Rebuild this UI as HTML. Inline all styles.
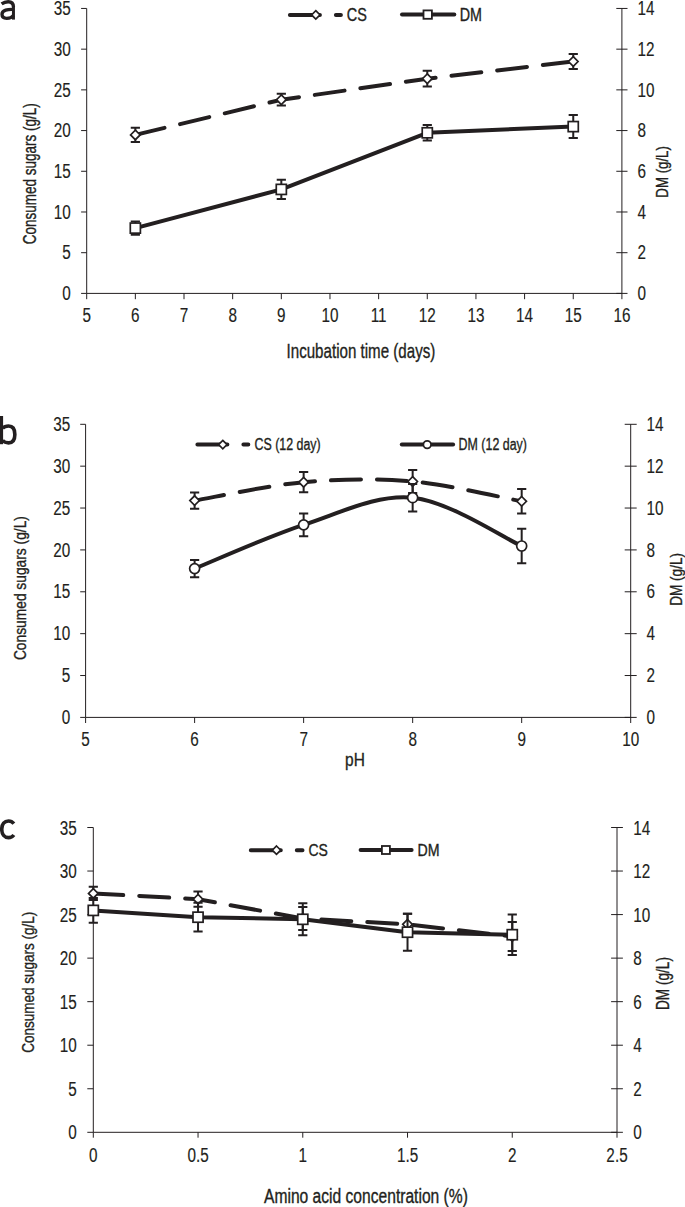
<!DOCTYPE html><html><head><meta charset="utf-8"><style>html,body{margin:0;padding:0;background:#fff;}svg{display:block;}svg text{font-family:"Liberation Sans",sans-serif;}</style></head><body><svg width="685" height="1207" viewBox="0 0 685 1207" font-family="Liberation Sans, sans-serif">
<rect width="685" height="1207" fill="#fff"/>
<path d="M86.70,8.45V293.40M621.90,8.45V293.40M86.70,293.40H621.90M81.10,293.40H86.70M616.30,293.40H627.50M81.10,252.69H86.70M616.30,252.69H627.50M81.10,211.99H86.70M616.30,211.99H627.50M81.10,171.28H86.70M616.30,171.28H627.50M81.10,130.57H86.70M616.30,130.57H627.50M81.10,89.86H86.70M616.30,89.86H627.50M81.10,49.16H86.70M616.30,49.16H627.50M81.10,8.45H86.70M616.30,8.45H627.50M86.70,293.40V299.20M135.35,293.40V299.20M184.01,293.40V299.20M232.66,293.40V299.20M281.32,293.40V299.20M329.97,293.40V299.20M378.63,293.40V299.20M427.28,293.40V299.20M475.94,293.40V299.20M524.59,293.40V299.20M573.25,293.40V299.20M621.90,293.40V299.20" stroke="#231f20" stroke-width="1" fill="none"/>
<text transform="translate(70.80,300.10) scale(0.7850,1)" font-size="19.5" text-anchor="end" fill="#231f20" stroke="#231f20" stroke-width="0.15">0</text>
<text transform="translate(637.50,300.10) scale(0.7850,1)" font-size="19.5" text-anchor="start" fill="#231f20" stroke="#231f20" stroke-width="0.15">0</text>
<text transform="translate(70.80,259.39) scale(0.7850,1)" font-size="19.5" text-anchor="end" fill="#231f20" stroke="#231f20" stroke-width="0.15">5</text>
<text transform="translate(637.50,259.39) scale(0.7850,1)" font-size="19.5" text-anchor="start" fill="#231f20" stroke="#231f20" stroke-width="0.15">2</text>
<text transform="translate(70.80,218.69) scale(0.7850,1)" font-size="19.5" text-anchor="end" fill="#231f20" stroke="#231f20" stroke-width="0.15">10</text>
<text transform="translate(637.50,218.69) scale(0.7850,1)" font-size="19.5" text-anchor="start" fill="#231f20" stroke="#231f20" stroke-width="0.15">4</text>
<text transform="translate(70.80,177.98) scale(0.7850,1)" font-size="19.5" text-anchor="end" fill="#231f20" stroke="#231f20" stroke-width="0.15">15</text>
<text transform="translate(637.50,177.98) scale(0.7850,1)" font-size="19.5" text-anchor="start" fill="#231f20" stroke="#231f20" stroke-width="0.15">6</text>
<text transform="translate(70.80,137.27) scale(0.7850,1)" font-size="19.5" text-anchor="end" fill="#231f20" stroke="#231f20" stroke-width="0.15">20</text>
<text transform="translate(637.50,137.27) scale(0.7850,1)" font-size="19.5" text-anchor="start" fill="#231f20" stroke="#231f20" stroke-width="0.15">8</text>
<text transform="translate(70.80,96.56) scale(0.7850,1)" font-size="19.5" text-anchor="end" fill="#231f20" stroke="#231f20" stroke-width="0.15">25</text>
<text transform="translate(637.50,96.56) scale(0.7850,1)" font-size="19.5" text-anchor="start" fill="#231f20" stroke="#231f20" stroke-width="0.15">10</text>
<text transform="translate(70.80,55.86) scale(0.7850,1)" font-size="19.5" text-anchor="end" fill="#231f20" stroke="#231f20" stroke-width="0.15">30</text>
<text transform="translate(637.50,55.86) scale(0.7850,1)" font-size="19.5" text-anchor="start" fill="#231f20" stroke="#231f20" stroke-width="0.15">12</text>
<text transform="translate(70.80,15.15) scale(0.7850,1)" font-size="19.5" text-anchor="end" fill="#231f20" stroke="#231f20" stroke-width="0.15">35</text>
<text transform="translate(637.50,15.15) scale(0.7850,1)" font-size="19.5" text-anchor="start" fill="#231f20" stroke="#231f20" stroke-width="0.15">14</text>
<text transform="translate(86.70,321.80) scale(0.7850,1)" font-size="19.5" text-anchor="middle" fill="#231f20" stroke="#231f20" stroke-width="0.15">5</text>
<text transform="translate(135.35,321.80) scale(0.7850,1)" font-size="19.5" text-anchor="middle" fill="#231f20" stroke="#231f20" stroke-width="0.15">6</text>
<text transform="translate(184.01,321.80) scale(0.7850,1)" font-size="19.5" text-anchor="middle" fill="#231f20" stroke="#231f20" stroke-width="0.15">7</text>
<text transform="translate(232.66,321.80) scale(0.7850,1)" font-size="19.5" text-anchor="middle" fill="#231f20" stroke="#231f20" stroke-width="0.15">8</text>
<text transform="translate(281.32,321.80) scale(0.7850,1)" font-size="19.5" text-anchor="middle" fill="#231f20" stroke="#231f20" stroke-width="0.15">9</text>
<text transform="translate(329.97,321.80) scale(0.7850,1)" font-size="19.5" text-anchor="middle" fill="#231f20" stroke="#231f20" stroke-width="0.15">10</text>
<text transform="translate(378.63,321.80) scale(0.7850,1)" font-size="19.5" text-anchor="middle" fill="#231f20" stroke="#231f20" stroke-width="0.15">11</text>
<text transform="translate(427.28,321.80) scale(0.7850,1)" font-size="19.5" text-anchor="middle" fill="#231f20" stroke="#231f20" stroke-width="0.15">12</text>
<text transform="translate(475.94,321.80) scale(0.7850,1)" font-size="19.5" text-anchor="middle" fill="#231f20" stroke="#231f20" stroke-width="0.15">13</text>
<text transform="translate(524.59,321.80) scale(0.7850,1)" font-size="19.5" text-anchor="middle" fill="#231f20" stroke="#231f20" stroke-width="0.15">14</text>
<text transform="translate(573.25,321.80) scale(0.7850,1)" font-size="19.5" text-anchor="middle" fill="#231f20" stroke="#231f20" stroke-width="0.15">15</text>
<text transform="translate(621.90,321.80) scale(0.7850,1)" font-size="19.5" text-anchor="middle" fill="#231f20" stroke="#231f20" stroke-width="0.15">16</text>
<path d="M135.35,134.90 L281.32,99.70 L427.28,78.70 L573.25,61.50" fill="none" stroke="#231f20" stroke-width="4.0" stroke-linecap="round" stroke-linejoin="round" stroke-dasharray="30.0 16.0"/>
<path d="M135.35,127.80V142.00M130.75,127.80H139.95M130.75,142.00H139.95" stroke="#231f20" stroke-width="2.0" fill="none"/>
<path d="M135.35,130.10L140.15,134.90L135.35,139.70L130.55,134.90Z" fill="#fff" stroke="#231f20" stroke-width="1.7"/>
<path d="M281.32,93.80V105.60M276.72,93.80H285.92M276.72,105.60H285.92" stroke="#231f20" stroke-width="2.0" fill="none"/>
<path d="M281.32,94.90L286.12,99.70L281.32,104.50L276.52,99.70Z" fill="#fff" stroke="#231f20" stroke-width="1.7"/>
<path d="M427.28,70.80V86.60M422.68,70.80H431.88M422.68,86.60H431.88" stroke="#231f20" stroke-width="2.0" fill="none"/>
<path d="M427.28,73.90L432.08,78.70L427.28,83.50L422.48,78.70Z" fill="#fff" stroke="#231f20" stroke-width="1.7"/>
<path d="M573.25,54.00V69.00M568.65,54.00H577.85M568.65,69.00H577.85" stroke="#231f20" stroke-width="2.0" fill="none"/>
<path d="M573.25,56.70L578.05,61.50L573.25,66.30L568.45,61.50Z" fill="#fff" stroke="#231f20" stroke-width="1.7"/>
<path d="M135.35,228.10 L281.32,189.40 L427.28,132.80 L573.25,126.60" fill="none" stroke="#231f20" stroke-width="4.0" stroke-linecap="round" stroke-linejoin="round"/>
<path d="M135.35,221.50V234.70M130.75,221.50H139.95M130.75,234.70H139.95" stroke="#231f20" stroke-width="2.0" fill="none"/>
<rect x="130.30" y="223.05" width="10.10" height="10.10" fill="#fff" stroke="#231f20" stroke-width="1.7"/>
<path d="M281.32,179.80V199.00M276.72,179.80H285.92M276.72,199.00H285.92" stroke="#231f20" stroke-width="2.0" fill="none"/>
<rect x="276.27" y="184.35" width="10.10" height="10.10" fill="#fff" stroke="#231f20" stroke-width="1.7"/>
<path d="M427.28,125.10V140.50M422.68,125.10H431.88M422.68,140.50H431.88" stroke="#231f20" stroke-width="2.0" fill="none"/>
<rect x="422.23" y="127.75" width="10.10" height="10.10" fill="#fff" stroke="#231f20" stroke-width="1.7"/>
<path d="M573.25,115.10V138.10M568.65,115.10H577.85M568.65,138.10H577.85" stroke="#231f20" stroke-width="2.0" fill="none"/>
<rect x="568.20" y="121.55" width="10.10" height="10.10" fill="#fff" stroke="#231f20" stroke-width="1.7"/>
<path d="M289.90,14.90H340.90" fill="none" stroke="#231f20" stroke-width="4.0" stroke-linecap="round" stroke-dasharray="30.0 16.0"/>
<path d="M315.80,10.70L320.00,14.90L315.80,19.10L311.60,14.90Z" fill="#fff" stroke="#231f20" stroke-width="1.7"/>
<path d="M402.00,14.60H454.30" fill="none" stroke="#231f20" stroke-width="4.0" stroke-linecap="round"/>
<rect x="423.50" y="10.40" width="8.40" height="8.40" fill="#fff" stroke="#231f20" stroke-width="1.8"/>
<text transform="translate(346.68,20.70) scale(0.8053,1)" font-size="18" fill="#231f20" stroke="#231f20" stroke-width="0.35">CS</text>
<text transform="translate(459.75,20.60) scale(0.7954,1)" font-size="18" fill="#231f20" stroke="#231f20" stroke-width="0.35">DM</text>
<text transform="translate(286.54,357.90) scale(0.7568,1)" font-size="20" fill="#231f20" stroke="#231f20" stroke-width="0.35">Incubation time (days)</text>
<text transform="translate(36.20,244.17) rotate(-90) scale(0.7499,1)" font-size="18" fill="#231f20" stroke="#231f20" stroke-width="0.35">Consumed sugars (g/L)</text>
<text transform="translate(668.00,197.66) rotate(-90) scale(0.7899,1)" font-size="16.8" fill="#231f20" stroke="#231f20" stroke-width="0.35">DM (g/L)</text>
<path d="M1.6,3.9 C3.8,2.3 5.9,1.7 8.2,1.7 C11.5,1.7 13.45,3.6 13.45,7.1 M13.45,9.4 C8,9.1 2.0,10.1 2.0,14.3 C2.0,16.9 3.9,18.35 6.7,18.35 C9.8,18.35 12.2,17.2 13.45,15.3" fill="none" stroke="#231f20" stroke-width="3.35"/><path d="M13.45,6.5V19.6" stroke="#231f20" stroke-width="3.0"/>
<path d="M85.60,424.30V717.40M630.70,424.30V717.40M85.60,717.40H630.70M80.20,717.40H85.60M624.70,717.40H636.70M80.20,675.53H85.60M624.70,675.53H636.70M80.20,633.66H85.60M624.70,633.66H636.70M80.20,591.79H85.60M624.70,591.79H636.70M80.20,549.91H85.60M624.70,549.91H636.70M80.20,508.04H85.60M624.70,508.04H636.70M80.20,466.17H85.60M624.70,466.17H636.70M80.20,424.30H85.60M624.70,424.30H636.70M85.60,717.40V723.00M194.62,717.40V723.00M303.64,717.40V723.00M412.66,717.40V723.00M521.68,717.40V723.00M630.70,717.40V723.00" stroke="#231f20" stroke-width="1" fill="none"/>
<text transform="translate(70.20,724.10) scale(0.7850,1)" font-size="19.5" text-anchor="end" fill="#231f20" stroke="#231f20" stroke-width="0.15">0</text>
<text transform="translate(646.60,724.10) scale(0.7850,1)" font-size="19.5" text-anchor="start" fill="#231f20" stroke="#231f20" stroke-width="0.15">0</text>
<text transform="translate(70.20,682.23) scale(0.7850,1)" font-size="19.5" text-anchor="end" fill="#231f20" stroke="#231f20" stroke-width="0.15">5</text>
<text transform="translate(646.60,682.23) scale(0.7850,1)" font-size="19.5" text-anchor="start" fill="#231f20" stroke="#231f20" stroke-width="0.15">2</text>
<text transform="translate(70.20,640.36) scale(0.7850,1)" font-size="19.5" text-anchor="end" fill="#231f20" stroke="#231f20" stroke-width="0.15">10</text>
<text transform="translate(646.60,640.36) scale(0.7850,1)" font-size="19.5" text-anchor="start" fill="#231f20" stroke="#231f20" stroke-width="0.15">4</text>
<text transform="translate(70.20,598.49) scale(0.7850,1)" font-size="19.5" text-anchor="end" fill="#231f20" stroke="#231f20" stroke-width="0.15">15</text>
<text transform="translate(646.60,598.49) scale(0.7850,1)" font-size="19.5" text-anchor="start" fill="#231f20" stroke="#231f20" stroke-width="0.15">6</text>
<text transform="translate(70.20,556.61) scale(0.7850,1)" font-size="19.5" text-anchor="end" fill="#231f20" stroke="#231f20" stroke-width="0.15">20</text>
<text transform="translate(646.60,556.61) scale(0.7850,1)" font-size="19.5" text-anchor="start" fill="#231f20" stroke="#231f20" stroke-width="0.15">8</text>
<text transform="translate(70.20,514.74) scale(0.7850,1)" font-size="19.5" text-anchor="end" fill="#231f20" stroke="#231f20" stroke-width="0.15">25</text>
<text transform="translate(646.60,514.74) scale(0.7850,1)" font-size="19.5" text-anchor="start" fill="#231f20" stroke="#231f20" stroke-width="0.15">10</text>
<text transform="translate(70.20,472.87) scale(0.7850,1)" font-size="19.5" text-anchor="end" fill="#231f20" stroke="#231f20" stroke-width="0.15">30</text>
<text transform="translate(646.60,472.87) scale(0.7850,1)" font-size="19.5" text-anchor="start" fill="#231f20" stroke="#231f20" stroke-width="0.15">12</text>
<text transform="translate(70.20,431.00) scale(0.7850,1)" font-size="19.5" text-anchor="end" fill="#231f20" stroke="#231f20" stroke-width="0.15">35</text>
<text transform="translate(646.60,431.00) scale(0.7850,1)" font-size="19.5" text-anchor="start" fill="#231f20" stroke="#231f20" stroke-width="0.15">14</text>
<text transform="translate(85.60,746.20) scale(0.7850,1)" font-size="19.5" text-anchor="middle" fill="#231f20" stroke="#231f20" stroke-width="0.15">5</text>
<text transform="translate(194.62,746.20) scale(0.7850,1)" font-size="19.5" text-anchor="middle" fill="#231f20" stroke="#231f20" stroke-width="0.15">6</text>
<text transform="translate(303.64,746.20) scale(0.7850,1)" font-size="19.5" text-anchor="middle" fill="#231f20" stroke="#231f20" stroke-width="0.15">7</text>
<text transform="translate(412.66,746.20) scale(0.7850,1)" font-size="19.5" text-anchor="middle" fill="#231f20" stroke="#231f20" stroke-width="0.15">8</text>
<text transform="translate(521.68,746.20) scale(0.7850,1)" font-size="19.5" text-anchor="middle" fill="#231f20" stroke="#231f20" stroke-width="0.15">9</text>
<text transform="translate(630.70,746.20) scale(0.7850,1)" font-size="19.5" text-anchor="middle" fill="#231f20" stroke="#231f20" stroke-width="0.15">10</text>
<path d="M194.62,500.60 C212.79,497.53 267.30,485.38 303.64,482.20 C339.98,479.02 376.32,478.32 412.66,481.50 C449.00,484.68 503.51,498.00 521.68,501.30" fill="none" stroke="#231f20" stroke-width="4.0" stroke-linecap="round" stroke-linejoin="round" stroke-dasharray="30.0 16.0"/>
<path d="M194.62,492.40V508.80M190.02,492.40H199.22M190.02,508.80H199.22" stroke="#231f20" stroke-width="2.0" fill="none"/>
<path d="M194.62,495.80L199.42,500.60L194.62,505.40L189.82,500.60Z" fill="#fff" stroke="#231f20" stroke-width="1.7"/>
<path d="M303.64,472.10V492.30M299.04,472.10H308.24M299.04,492.30H308.24" stroke="#231f20" stroke-width="2.0" fill="none"/>
<path d="M303.64,477.40L308.44,482.20L303.64,487.00L298.84,482.20Z" fill="#fff" stroke="#231f20" stroke-width="1.7"/>
<path d="M412.66,469.90V493.10M408.06,469.90H417.26M408.06,493.10H417.26" stroke="#231f20" stroke-width="2.0" fill="none"/>
<path d="M412.66,476.70L417.46,481.50L412.66,486.30L407.86,481.50Z" fill="#fff" stroke="#231f20" stroke-width="1.7"/>
<path d="M521.68,489.00V513.60M517.08,489.00H526.28M517.08,513.60H526.28" stroke="#231f20" stroke-width="2.0" fill="none"/>
<path d="M521.68,496.50L526.48,501.30L521.68,506.10L516.88,501.30Z" fill="#fff" stroke="#231f20" stroke-width="1.7"/>
<path d="M194.62,568.60 C212.79,561.31 267.30,536.67 303.64,524.85 C339.98,513.03 376.32,494.18 412.66,497.70 C449.00,501.22 503.51,537.95 521.68,546.00" fill="none" stroke="#231f20" stroke-width="4.0" stroke-linecap="round" stroke-linejoin="round"/>
<path d="M194.62,559.90V577.30M190.02,559.90H199.22M190.02,577.30H199.22" stroke="#231f20" stroke-width="2.0" fill="none"/>
<circle cx="194.62" cy="568.60" r="5.00" fill="#fff" stroke="#231f20" stroke-width="1.7"/>
<path d="M303.64,513.45V536.25M299.04,513.45H308.24M299.04,536.25H308.24" stroke="#231f20" stroke-width="2.0" fill="none"/>
<circle cx="303.64" cy="524.85" r="5.00" fill="#fff" stroke="#231f20" stroke-width="1.7"/>
<path d="M412.66,484.00V511.40M408.06,484.00H417.26M408.06,511.40H417.26" stroke="#231f20" stroke-width="2.0" fill="none"/>
<circle cx="412.66" cy="497.70" r="5.00" fill="#fff" stroke="#231f20" stroke-width="1.7"/>
<path d="M521.68,528.70V563.30M517.08,528.70H526.28M517.08,563.30H526.28" stroke="#231f20" stroke-width="2.0" fill="none"/>
<circle cx="521.68" cy="546.00" r="5.00" fill="#fff" stroke="#231f20" stroke-width="1.7"/>
<path d="M197.40,444.60H248.30" fill="none" stroke="#231f20" stroke-width="4.0" stroke-linecap="round" stroke-dasharray="30.0 16.0"/>
<path d="M222.80,440.40L227.00,444.60L222.80,448.80L218.60,444.60Z" fill="#fff" stroke="#231f20" stroke-width="1.7"/>
<path d="M401.80,444.60H453.10" fill="none" stroke="#231f20" stroke-width="4.0" stroke-linecap="round"/>
<circle cx="427.20" cy="444.60" r="3.80" fill="#fff" stroke="#231f20" stroke-width="1.7"/>
<text transform="translate(254.48,449.70) scale(0.7574,1)" font-size="16.4" fill="#231f20" stroke="#231f20" stroke-width="0.35">CS (12 day)</text>
<text transform="translate(458.61,449.70) scale(0.7576,1)" font-size="16.4" fill="#231f20" stroke="#231f20" stroke-width="0.35">DM (12 day)</text>
<text transform="translate(345.09,766.00) scale(0.8371,1)" font-size="18.5" fill="#231f20" stroke="#231f20" stroke-width="0.35">pH</text>
<text transform="translate(25.50,660.09) rotate(-90) scale(0.8016,1)" font-size="17.2" fill="#231f20" stroke="#231f20" stroke-width="0.35">Consumed sugars (g/L)</text>
<text transform="translate(681.70,605.79) rotate(-90) scale(0.7995,1)" font-size="17" fill="#231f20" stroke="#231f20" stroke-width="0.35">DM (g/L)</text>
<path d="M1.5,416V444.2" stroke="#231f20" stroke-width="3.2"/><path d="M2.6,428.2 C4.2,426.5 6.5,425.95 8.6,425.95 C12.6,425.95 14.85,429 14.85,434.4 C14.85,439.9 12.6,442.85 8.6,442.85 C6.2,442.85 4.1,442.1 2.6,440.4" fill="none" stroke="#231f20" stroke-width="3.6"/>
<path d="M93.30,827.50V1132.30M617.00,827.50V1132.30M93.30,1132.30H617.00M87.30,1132.30H93.30M611.10,1132.30H622.90M87.30,1088.76H93.30M611.10,1088.76H622.90M87.30,1045.21H93.30M611.10,1045.21H622.90M87.30,1001.67H93.30M611.10,1001.67H622.90M87.30,958.13H93.30M611.10,958.13H622.90M87.30,914.59H93.30M611.10,914.59H622.90M87.30,871.04H93.30M611.10,871.04H622.90M87.30,827.50H93.30M611.10,827.50H622.90M93.30,1132.30V1137.70M198.04,1132.30V1137.70M302.78,1132.30V1137.70M407.52,1132.30V1137.70M512.26,1132.30V1137.70M617.00,1132.30V1137.70" stroke="#231f20" stroke-width="1" fill="none"/>
<text transform="translate(76.70,1139.30) scale(0.7850,1)" font-size="19.5" text-anchor="end" fill="#231f20" stroke="#231f20" stroke-width="0.15">0</text>
<text transform="translate(633.20,1139.30) scale(0.7850,1)" font-size="19.5" text-anchor="start" fill="#231f20" stroke="#231f20" stroke-width="0.15">0</text>
<text transform="translate(76.70,1095.76) scale(0.7850,1)" font-size="19.5" text-anchor="end" fill="#231f20" stroke="#231f20" stroke-width="0.15">5</text>
<text transform="translate(633.20,1095.76) scale(0.7850,1)" font-size="19.5" text-anchor="start" fill="#231f20" stroke="#231f20" stroke-width="0.15">2</text>
<text transform="translate(76.70,1052.21) scale(0.7850,1)" font-size="19.5" text-anchor="end" fill="#231f20" stroke="#231f20" stroke-width="0.15">10</text>
<text transform="translate(633.20,1052.21) scale(0.7850,1)" font-size="19.5" text-anchor="start" fill="#231f20" stroke="#231f20" stroke-width="0.15">4</text>
<text transform="translate(76.70,1008.67) scale(0.7850,1)" font-size="19.5" text-anchor="end" fill="#231f20" stroke="#231f20" stroke-width="0.15">15</text>
<text transform="translate(633.20,1008.67) scale(0.7850,1)" font-size="19.5" text-anchor="start" fill="#231f20" stroke="#231f20" stroke-width="0.15">6</text>
<text transform="translate(76.70,965.13) scale(0.7850,1)" font-size="19.5" text-anchor="end" fill="#231f20" stroke="#231f20" stroke-width="0.15">20</text>
<text transform="translate(633.20,965.13) scale(0.7850,1)" font-size="19.5" text-anchor="start" fill="#231f20" stroke="#231f20" stroke-width="0.15">8</text>
<text transform="translate(76.70,921.59) scale(0.7850,1)" font-size="19.5" text-anchor="end" fill="#231f20" stroke="#231f20" stroke-width="0.15">25</text>
<text transform="translate(633.20,921.59) scale(0.7850,1)" font-size="19.5" text-anchor="start" fill="#231f20" stroke="#231f20" stroke-width="0.15">10</text>
<text transform="translate(76.70,878.04) scale(0.7850,1)" font-size="19.5" text-anchor="end" fill="#231f20" stroke="#231f20" stroke-width="0.15">30</text>
<text transform="translate(633.20,878.04) scale(0.7850,1)" font-size="19.5" text-anchor="start" fill="#231f20" stroke="#231f20" stroke-width="0.15">12</text>
<text transform="translate(76.70,834.50) scale(0.7850,1)" font-size="19.5" text-anchor="end" fill="#231f20" stroke="#231f20" stroke-width="0.15">35</text>
<text transform="translate(633.20,834.50) scale(0.7850,1)" font-size="19.5" text-anchor="start" fill="#231f20" stroke="#231f20" stroke-width="0.15">14</text>
<text transform="translate(93.30,1162.20) scale(0.7850,1)" font-size="19.5" text-anchor="middle" fill="#231f20" stroke="#231f20" stroke-width="0.15">0</text>
<text transform="translate(198.04,1162.20) scale(0.7850,1)" font-size="19.5" text-anchor="middle" fill="#231f20" stroke="#231f20" stroke-width="0.15">0.5</text>
<text transform="translate(302.78,1162.20) scale(0.7850,1)" font-size="19.5" text-anchor="middle" fill="#231f20" stroke="#231f20" stroke-width="0.15">1</text>
<text transform="translate(407.52,1162.20) scale(0.7850,1)" font-size="19.5" text-anchor="middle" fill="#231f20" stroke="#231f20" stroke-width="0.15">1.5</text>
<text transform="translate(512.26,1162.20) scale(0.7850,1)" font-size="19.5" text-anchor="middle" fill="#231f20" stroke="#231f20" stroke-width="0.15">2</text>
<text transform="translate(617.00,1162.20) scale(0.7850,1)" font-size="19.5" text-anchor="middle" fill="#231f20" stroke="#231f20" stroke-width="0.15">2.5</text>
<path d="M93.30,893.40 L198.04,899.20 L302.78,918.50 L407.52,924.30 L512.26,936.40" fill="none" stroke="#231f20" stroke-width="4.0" stroke-linecap="round" stroke-linejoin="round" stroke-dasharray="30.0 16.0"/>
<path d="M93.30,886.80V900.00M88.70,886.80H97.90M88.70,900.00H97.90" stroke="#231f20" stroke-width="2.0" fill="none"/>
<path d="M93.30,888.60L98.10,893.40L93.30,898.20L88.50,893.40Z" fill="#fff" stroke="#231f20" stroke-width="1.7"/>
<path d="M198.04,891.60V906.80M193.44,891.60H202.64M193.44,906.80H202.64" stroke="#231f20" stroke-width="2.0" fill="none"/>
<path d="M198.04,894.40L202.84,899.20L198.04,904.00L193.24,899.20Z" fill="#fff" stroke="#231f20" stroke-width="1.7"/>
<path d="M302.78,907.10V929.90M298.18,907.10H307.38M298.18,929.90H307.38" stroke="#231f20" stroke-width="2.0" fill="none"/>
<path d="M302.78,913.70L307.58,918.50L302.78,923.30L297.98,918.50Z" fill="#fff" stroke="#231f20" stroke-width="1.7"/>
<path d="M407.52,913.80V934.80M402.92,913.80H412.12M402.92,934.80H412.12" stroke="#231f20" stroke-width="2.0" fill="none"/>
<path d="M407.52,919.50L412.32,924.30L407.52,929.10L402.72,924.30Z" fill="#fff" stroke="#231f20" stroke-width="1.7"/>
<path d="M512.26,921.90V950.90M507.66,921.90H516.86M507.66,950.90H516.86" stroke="#231f20" stroke-width="2.0" fill="none"/>
<path d="M512.26,931.60L517.06,936.40L512.26,941.20L507.46,936.40Z" fill="#fff" stroke="#231f20" stroke-width="1.7"/>
<path d="M93.30,910.40 L198.04,917.20 L302.78,919.30 L407.52,932.20 L512.26,934.70" fill="none" stroke="#231f20" stroke-width="4.0" stroke-linecap="round" stroke-linejoin="round"/>
<path d="M93.30,898.10V922.70M88.70,898.10H97.90M88.70,922.70H97.90" stroke="#231f20" stroke-width="2.0" fill="none"/>
<rect x="88.25" y="905.35" width="10.10" height="10.10" fill="#fff" stroke="#231f20" stroke-width="1.7"/>
<path d="M198.04,902.80V931.60M193.44,902.80H202.64M193.44,931.60H202.64" stroke="#231f20" stroke-width="2.0" fill="none"/>
<rect x="192.99" y="912.15" width="10.10" height="10.10" fill="#fff" stroke="#231f20" stroke-width="1.7"/>
<path d="M302.78,903.30V935.30M298.18,903.30H307.38M298.18,935.30H307.38" stroke="#231f20" stroke-width="2.0" fill="none"/>
<rect x="297.73" y="914.25" width="10.10" height="10.10" fill="#fff" stroke="#231f20" stroke-width="1.7"/>
<path d="M407.52,913.70V950.70M402.92,913.70H412.12M402.92,950.70H412.12" stroke="#231f20" stroke-width="2.0" fill="none"/>
<rect x="402.47" y="927.15" width="10.10" height="10.10" fill="#fff" stroke="#231f20" stroke-width="1.7"/>
<path d="M512.26,914.40V955.00M507.66,914.40H516.86M507.66,955.00H516.86" stroke="#231f20" stroke-width="2.0" fill="none"/>
<rect x="507.21" y="929.65" width="10.10" height="10.10" fill="#fff" stroke="#231f20" stroke-width="1.7"/>
<path d="M250.80,850.20H302.50" fill="none" stroke="#231f20" stroke-width="4.0" stroke-linecap="round" stroke-dasharray="30.0 16.0"/>
<path d="M276.50,846.00L280.70,850.20L276.50,854.40L272.30,850.20Z" fill="#fff" stroke="#231f20" stroke-width="1.7"/>
<path d="M360.60,850.00H411.60" fill="none" stroke="#231f20" stroke-width="4.0" stroke-linecap="round"/>
<rect x="381.90" y="846.00" width="8.00" height="8.00" fill="#fff" stroke="#231f20" stroke-width="1.8"/>
<text transform="translate(308.40,855.50) scale(0.8457,1)" font-size="16.5" fill="#231f20" stroke="#231f20" stroke-width="0.35">CS</text>
<text transform="translate(417.57,855.50) scale(0.8589,1)" font-size="16.5" fill="#231f20" stroke="#231f20" stroke-width="0.35">DM</text>
<text transform="translate(264.02,1202.60) scale(0.8090,1)" font-size="19.3" fill="#231f20" stroke="#231f20" stroke-width="0.35">Amino acid concentration (%)</text>
<text transform="translate(33.80,1052.78) rotate(-90) scale(0.7768,1)" font-size="17.4" fill="#231f20" stroke="#231f20" stroke-width="0.35">Consumed sugars (g/L)</text>
<text transform="translate(668.80,1009.99) rotate(-90) scale(0.7566,1)" font-size="18" fill="#231f20" stroke="#231f20" stroke-width="0.35">DM (g/L)</text>
<path d="M13.9,823.6 C12.4,821.7 10.6,820.95 8.5,820.95 C4.4,820.95 1.75,824 1.75,829.3 C1.75,834.6 4.4,837.65 8.5,837.65 C10.6,837.65 12.4,836.9 13.9,835.0" fill="none" stroke="#231f20" stroke-width="3.6"/>
</svg></body></html>
